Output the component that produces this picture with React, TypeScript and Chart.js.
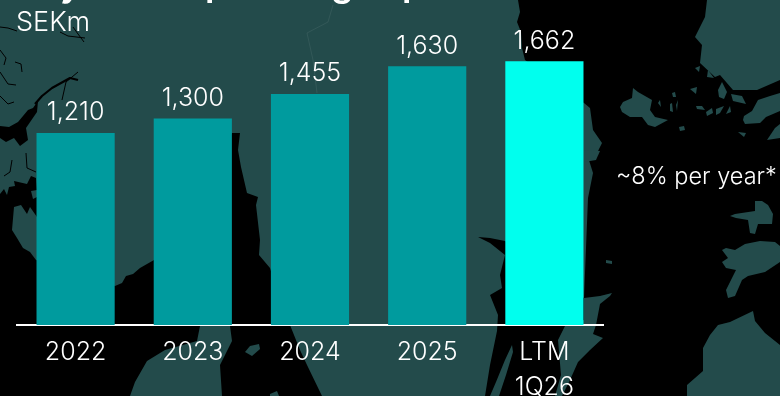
import React, { useEffect, useRef } from "react";
import { Chart, registerables } from "chart.js";

Chart.register(...registerables);

const categories = ["2022", "2023", "2024", "2025", ["LTM", "1Q26"]];
const revenue = [1210, 1300, 1455, 1630, 1662];
const barColors = ["#009b9e", "#009b9e", "#009b9e", "#009b9e", "#00ffee"];
const unitLabel = "SEKm";
const growthLabel = "~8% per year*";

const FONT = "Inter, 'Liberation Sans', sans-serif";
const LAND = "#234b4b";
const SEA = "#000000";

type Pts = number[][];

// Backdrop map of the Baltic region: sea shapes cut out of a land-coloured fill.
const westSea: Pts = [
  [0, 194], [4, 189], [7, 195], [9, 187], [15, 186], [14, 181], [27, 184], [31, 176], [36, 178], [37, 190], [31, 191],
  [33, 199], [37, 197], [37, 217], [30, 207], [27, 214], [21, 205], [14, 207], [12, 230], [17, 238], [23, 248], [30, 252],
  [36, 260], [115, 286], [122, 283], [126, 276], [133, 274], [140, 268], [154, 260], [200, 200], [232, 133], [240, 133],
  [238, 150], [241, 167], [247, 193], [258, 197], [256, 205], [260, 240], [259, 255], [270, 268], [280, 300], [290, 325],
  [300, 350], [307, 365], [322, 396], [0, 396],
];
const eastSea: Pts = [
  [518, 0], [520, 12], [517, 22], [521, 32], [522, 48], [525, 60], [584, 103], [590, 108], [593, 130], [602, 143],
  [597, 153], [588, 157], [593, 173], [588, 198], [584, 298], [505, 241], [490, 238], [478, 237], [490, 243], [505, 255],
  [500, 275], [502, 288], [490, 295], [498, 315], [497, 331], [490, 365], [485, 396], [780, 396], [780, 80], [757, 90],
  [733, 90], [720, 75], [715, 77], [700, 63], [702, 45], [695, 37], [705, 17], [707, 0],
];
const skagerrakInlet: Pts = [
  [33, 108], [38, 101], [37, 112], [26, 128], [28, 140], [20, 146], [14, 138], [6, 142], [0, 138], [0, 126], [9, 127], [18, 122], [28, 110],
];
const fjords: Pts[] = [
  [[0, 27], [8, 28], [17, 31]],
  [[73, 27], [78, 34], [84, 42]],
  [[60, 32], [68, 36], [85, 38]],
  [[0, 50], [6, 58], [4, 65]],
  [[0, 72], [8, 84], [16, 85]],
  [[15, 62], [21, 64], [22, 72]],
  [[0, 96], [8, 104], [14, 102]],
  [[78, 72], [66, 82], [62, 100]],
  [[78, 80], [70, 78], [52, 88], [42, 96], [35, 104]],
  [[12, 160], [10, 172], [4, 176]],
  [[26, 153], [27, 168], [36, 172]],
];
const landPieces: Pts[] = [
  // Peninsula and islands below the axis
  [[130, 396], [135, 382], [147, 361], [165, 350], [197, 341], [200, 326], [230, 326], [232, 341], [220, 365], [222, 396]],
  [[245, 352], [250, 346], [259, 344], [260, 349], [252, 356]],
  [[270, 394], [277, 391], [279, 396], [270, 396]],
  [[512, 345], [505, 360], [496, 382], [490, 396], [499, 396], [506, 375], [513, 352]],
  [[584, 298], [600, 296], [612, 293], [610, 296], [600, 304], [596, 325], [593, 334], [603, 338], [590, 350], [578, 362], [570, 380], [562, 396], [555, 396], [561, 375], [558, 340], [565, 326], [584, 320]],
  [[606, 260], [612, 261], [612, 264], [606, 263]],
  // Islands along the eastern side
  [[730, 216], [735, 214], [755, 211], [755, 201], [762, 201], [768, 205], [773, 214], [772, 224], [758, 224], [755, 234], [750, 233], [748, 220], [736, 218]],
  [[722, 250], [726, 248], [735, 250], [745, 244], [760, 241], [775, 242], [780, 246], [780, 262], [765, 272], [748, 276], [742, 280], [735, 296], [728, 298], [726, 290], [732, 278], [736, 270], [726, 268], [722, 262], [728, 258]],
  [[687, 396], [687, 385], [703, 371], [703, 348], [710, 335], [718, 325], [730, 322], [753, 311], [755, 321], [765, 333], [780, 345], [780, 396]],
  // Åland cluster
  [[620, 107], [623, 102], [632, 98], [633, 88], [638, 92], [652, 100], [650, 110], [655, 117], [668, 120], [655, 127], [648, 125], [642, 117], [630, 117], [622, 112]],
  [[658, 103], [660, 100], [661, 107]], [[672, 93], [675, 92], [676, 97], [673, 97]],
  [[676, 105], [678, 100], [677, 111]], [[670, 104], [672, 103], [673, 112], [670, 111]],
  [[679, 127], [684, 126], [685, 130], [680, 131]],
  // Coastal islets and the southern mainland fringe
  [[696, 106], [702, 106], [705, 110], [697, 109]], [[706, 112], [712, 108], [713, 113], [707, 116]],
  [[716, 109], [724, 106], [720, 113], [716, 115]], [[726, 114], [730, 106], [731, 112]],
  [[743, 120], [744, 116], [752, 111], [758, 100], [770, 96], [780, 93], [780, 111], [766, 117], [760, 123], [745, 124]],
  [[775, 128], [780, 124], [780, 138], [767, 140]],
  [[708, 70], [714, 78], [707, 77]], [[695, 68], [700, 66], [699, 72]], [[690, 89], [697, 87], [696, 94]],
  [[718, 90], [722, 82], [727, 92], [724, 99], [719, 97]], [[731, 94], [742, 96], [746, 104], [733, 101]],
  [[584, 150], [600, 151], [596, 160], [584, 162]], [[738, 132], [746, 133], [744, 137]],
];
const bordersAndLakes: Pts[] = [
  [[333, 5], [328, 22], [307, 33], [313, 60], [317, 93]],
];
const titleFragments: [string, number][] = [["y", 60], ["p", 205], ["g", 331], ["p", 402]];

function tracePoly(ctx: CanvasRenderingContext2D, pts: Pts) {
  ctx.beginPath();
  pts.forEach(([x, y], i) => (i ? ctx.lineTo(x, y) : ctx.moveTo(x, y)));
}

const mapBackdrop = {
  id: "mapBackdrop",
  beforeDraw(chart: Chart) {
    const ctx = chart.ctx;
    ctx.save();
    ctx.fillStyle = LAND;
    ctx.fillRect(0, 0, chart.width, chart.height);
    ctx.fillStyle = SEA;
    for (const shape of [westSea, eastSea, skagerrakInlet]) {
      tracePoly(ctx, shape);
      ctx.closePath();
      ctx.fill();
    }
    ctx.fillStyle = LAND;
    for (const piece of landPieces) {
      tracePoly(ctx, piece);
      ctx.closePath();
      ctx.fill();
    }
    ctx.strokeStyle = SEA;
    ctx.lineJoin = "round";
    fjords.forEach((line, i) => {
      ctx.lineWidth = i === 8 ? 2.2 : 1;
      tracePoly(ctx, line);
      ctx.stroke();
    });
    ctx.strokeStyle = "rgba(255,255,255,0.07)";
    ctx.lineWidth = 1;
    for (const line of bordersAndLakes) {
      tracePoly(ctx, line);
      ctx.stroke();
    }
    ctx.restore();
  },
};

const slideText = {
  id: "slideText",
  afterDatasetsDraw(chart: Chart) {
    const ctx = chart.ctx;
    ctx.save();
    ctx.fillStyle = "#ffffff";
    ctx.textBaseline = "alphabetic";
    // Value labels above each bar
    ctx.textAlign = "center";
    ctx.font = `300 25px ${FONT}`;
    chart.getDatasetMeta(0).data.forEach((bar: any, i: number) => {
      ctx.fillText(revenue[i].toLocaleString("en-US"), bar.x, bar.y - 12.5);
    });
    // Heading that runs off the top edge, only its descenders stay on the canvas
    ctx.textAlign = "left";
    ctx.font = `600 36px ${FONT}`;
    for (const [glyph, x] of titleFragments) ctx.fillText(glyph, x, -4);
    ctx.font = `300 27px ${FONT}`;
    ctx.fillText(unitLabel, 16, 31);
    ctx.font = `300 23.5px ${FONT}`;
    ctx.fillText(growthLabel, 616, 184);
    ctx.restore();
  },
};

export default function App() {
  const ref = useRef<HTMLCanvasElement>(null);

  useEffect(() => {
    if (!ref.current) return;
    const chart = new Chart(ref.current, {
      type: "bar",
      data: {
        labels: categories as any,
        datasets: [
          {
            data: revenue,
            backgroundColor: barColors,
            borderWidth: 0,
            categoryPercentage: 1,
            barPercentage: 0.667,
          },
        ],
      },
      options: {
        animation: false,
        responsive: false,
        layout: { padding: { left: 17, right: 177, top: 0, bottom: 0 } },
        plugins: { legend: { display: false }, title: { display: false }, tooltip: { enabled: false } },
        scales: {
          x: {
            grid: { display: false },
            border: { display: true, color: "#ffffff", width: 2 },
            ticks: {
              color: "#ffffff",
              padding: 2,
              maxRotation: 0,
              autoSkip: false,
              font: { family: FONT, size: 25, weight: "300", lineHeight: 1.4 },
            },
            afterFit(scale: any) {
              scale.height = 71;
            },
          },
          y: { display: false, min: 0, max: 2047 },
        },
      },
      plugins: [mapBackdrop, slideText],
    });
    return () => chart.destroy();
  }, []);

  return (
    <div style={{ position: "fixed", left: 0, top: 0, width: 780, height: 396, overflow: "hidden" }}>
      <canvas ref={ref} width={780} height={396} style={{ display: "block" }} />
    </div>
  );
}
